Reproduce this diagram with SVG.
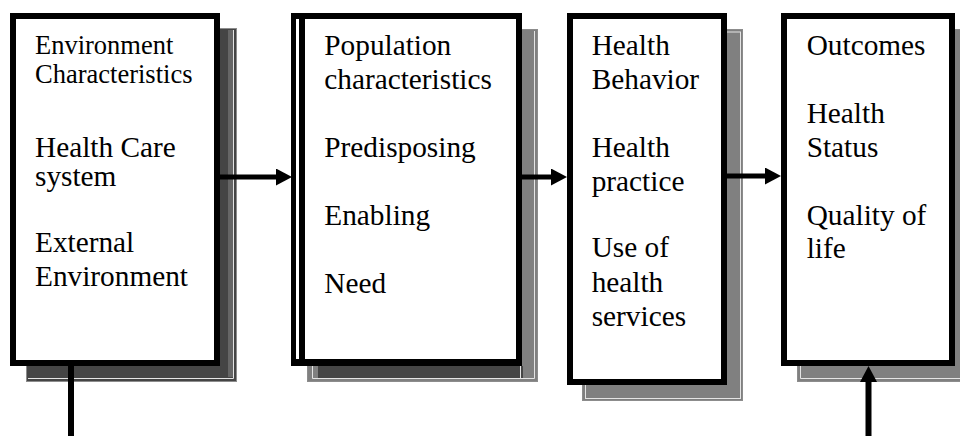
<svg xmlns="http://www.w3.org/2000/svg" width="960" height="436" viewBox="0 0 960 436">
  <style>
    .box { fill: #ffffff; stroke: #000000; stroke-width: 6; }
    .shadow { fill: #808080; stroke: #8c8c8c; stroke-width: 1; }
    .shadow-dark { fill: #454545; stroke: #8c8c8c; stroke-width: 1; }
    .glint { fill: none; stroke: #e4e4e4; stroke-width: 1; }
    .link { stroke: #000000; stroke-width: 5; fill: none; }
    .label { font-family: "Liberation Serif", "Times New Roman", serif; font-size: 29.3px; fill: #000000; }
    .label-sm { font-size: 26.5px; }
  </style>
  <defs>
    <marker id="head" markerUnits="userSpaceOnUse" markerWidth="16" markerHeight="17" refX="0" refY="8.5" orient="auto">
      <path d="M0,0 L16,8.5 L0,17 Z" fill="#000000"/>
    </marker>
  </defs>

  <rect width="960" height="436" fill="#ffffff"/>

  <!-- Environment -->
  <g id="environment">
    <rect class="shadow-dark" x="26.5" y="28.5" width="210" height="353"/>
    <rect x="228" y="30" width="5" height="347" fill="#666666"/>
    <path class="glint" d="M28,378.5 H233.5 V30"/>
    <rect class="box" x="13" y="16" width="204" height="347"/>
    <text class="label label-sm" x="35" y="54">Environment</text>
    <text class="label label-sm" x="35" y="83.3">Characteristics</text>
    <text class="label" x="35" y="156.7">Health Care</text>
    <text class="label" x="35" y="185.5">system</text>
    <text class="label" x="35" y="252.3">External</text>
    <text class="label" x="35" y="286.3">Environment</text>
  </g>

  <!-- Population characteristics -->
  <g id="population">
    <rect class="shadow" x="307.5" y="29.5" width="230" height="352"/>
    <rect x="318" y="366" width="205" height="12" fill="#454545"/>
    <path class="glint" d="M312.5,366 V378.5 H534.5 V31"/>
    <path class="glint" d="M520.5,366 V378.5"/>
    <rect x="291" y="13" width="231" height="353" fill="#000000"/>
    <rect x="305" y="19" width="211" height="340" fill="#ffffff"/>
    <rect x="296" y="19" width="3" height="340" fill="#ffffff"/>
    <text class="label" x="324.3" y="55">Population</text>
    <text class="label" x="324.3" y="89.3">characteristics</text>
    <text class="label" x="324.3" y="156.7">Predisposing</text>
    <text class="label" x="324.3" y="225">Enabling</text>
    <text class="label" x="324.3" y="292.7">Need</text>
  </g>

  <!-- Health behavior -->
  <g id="behavior">
    <rect class="shadow" x="582.5" y="29.5" width="160" height="371"/>
    <rect class="glint" x="585.5" y="32" width="155" height="366.5"/>
    <rect class="box" x="570" y="16" width="154" height="366"/>
    <text class="label" x="591.7" y="55">Health</text>
    <text class="label" x="591.7" y="89">Behavior</text>
    <text class="label" x="591.7" y="157">Health</text>
    <text class="label" x="591.7" y="190.5">practice</text>
    <text class="label" x="591.7" y="257.3">Use of</text>
    <text class="label" x="591.7" y="291.7">health</text>
    <text class="label" x="591.7" y="326">services</text>
  </g>

  <!-- Outcomes -->
  <g id="outcomes">
    <rect class="shadow" x="797.5" y="29.5" width="170" height="352"/>
    <path class="glint" d="M800.5,366 V378.5 H962"/>
    <rect class="box" x="784" y="16" width="168" height="347"/>
    <text class="label" x="806.7" y="55">Outcomes</text>
    <text class="label" x="806.7" y="123.3">Health</text>
    <text class="label" x="806.7" y="157">Status</text>
    <text class="label" x="806.7" y="224.7">Quality of</text>
    <text class="label" x="806.7" y="258.3">life</text>
  </g>

  <!-- Connectors -->
  <g id="connectors">
    <line class="link" x1="220" y1="177" x2="276" y2="177" marker-end="url(#head)"/>
    <line class="link" x1="522" y1="177" x2="551" y2="177" marker-end="url(#head)"/>
    <line class="link" x1="727" y1="176" x2="765" y2="176" marker-end="url(#head)"/>
    <line class="link" x1="868.5" y1="436" x2="868.5" y2="382" marker-end="url(#head)" style="stroke-width:6"/>
    <line class="link" x1="71" y1="366" x2="71" y2="436" style="stroke-width:6"/>
  </g>
</svg>
